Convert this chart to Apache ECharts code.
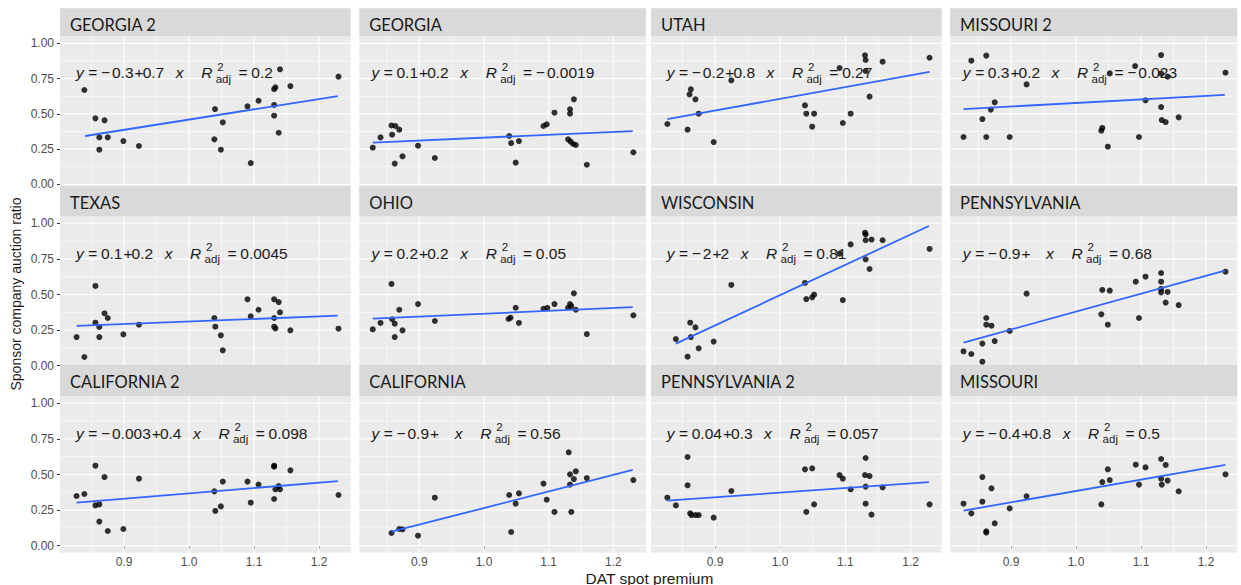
<!DOCTYPE html>
<html><head><meta charset="utf-8">
<script src="https://cdn.jsdelivr.net/npm/echarts@6/dist/echarts.min.js"></script>
<style>html,body{margin:0;padding:0;background:#fff}#c{width:1241px;height:585px}</style>
</head><body><div id="c"></div>
<script>
// ---------- data ----------
const panelNames = ['GEORGIA 2','GEORGIA','UTAH','MISSOURI 2','TEXAS','OHIO','WISCONSIN','PENNSYLVANIA','CALIFORNIA 2','CALIFORNIA','PENNSYLVANIA 2','MISSOURI'];
const xTicks = [0.9, 1.0, 1.1, 1.2];
const xMinor = [0.85, 0.95, 1.05, 1.15];
const yTicks = [0, 0.25, 0.5, 0.75, 1.0];
const yMinor = [0.125, 0.375, 0.625, 0.875];

const georgia2 = [[0.839,0.669],[0.856,0.468],[0.870,0.454],[0.862,0.333],[0.875,0.333],[0.862,0.246],[0.899,0.307],[0.923,0.272],[1.040,0.534],[1.039,0.319],[1.052,0.440],[1.049,0.246],[1.090,0.553],[1.095,0.151],[1.107,0.593],[1.131,0.676],[1.133,0.688],[1.131,0.563],[1.131,0.487],[1.138,0.366],[1.140,0.816],[1.156,0.697],[1.230,0.764]];
const georgia2Fit = [[0.840,0.343],[1.229,0.626]];
const georgia2Eq = ['−0.3','0.7','0.2'];

const georgia = [[0.828,0.260],[0.840,0.333],[0.857,0.418],[0.863,0.414],[0.858,0.352],[0.869,0.388],[0.862,0.147],[0.874,0.199],[0.898,0.274],[0.924,0.187],[1.039,0.343],[1.042,0.293],[1.054,0.307],[1.049,0.154],[1.092,0.414],[1.097,0.426],[1.109,0.508],[1.133,0.532],[1.133,0.501],[1.139,0.603],[1.130,0.319],[1.134,0.303],[1.138,0.286],[1.142,0.279],[1.159,0.139],[1.231,0.227]];
const georgiaFit = [[0.828,0.296],[1.230,0.378]];
const georgiaEq = ['0.1','0.2','−0.0019'];

const utah = [[0.827,0.428],[0.858,0.388],[0.863,0.674],[0.861,0.638],[0.870,0.603],[0.875,0.501],[0.898,0.300],[0.925,0.738],[1.038,0.560],[1.040,0.501],[1.052,0.501],[1.049,0.409],[1.091,0.825],[1.096,0.435],[1.108,0.501],[1.130,0.915],[1.131,0.882],[1.131,0.804],[1.137,0.622],[1.157,0.870],[1.229,0.898]];
const utahFit = [[0.827,0.463],[1.229,0.797]];
const utahEq = ['−0.2','0.8','0.27'];

const missouri2 = [[0.827,0.336],[0.839,0.877],[0.862,0.913],[0.856,0.463],[0.869,0.530],[0.875,0.582],[0.862,0.336],[0.898,0.336],[0.924,0.709],[1.039,0.381],[1.0405,0.400],[1.049,0.267],[1.052,0.787],[1.091,0.839],[1.097,0.336],[1.107,0.596],[1.131,0.917],[1.131,0.785],[1.131,0.548],[1.132,0.456],[1.138,0.442],[1.141,0.764],[1.158,0.475],[1.230,0.792]];
const missouri2Fit = [[0.827,0.534],[1.229,0.634]];
const missouri2Eq = ['0.3','0.2','−0.023'];

const texas = [[0.827,0.201],[0.839,0.061],[0.856,0.560],[0.856,0.302],[0.862,0.272],[0.862,0.201],[0.870,0.368],[0.875,0.335],[0.899,0.220],[0.923,0.288],[1.039,0.335],[1.0405,0.274],[1.049,0.213],[1.052,0.108],[1.090,0.466],[1.095,0.347],[1.107,0.393],[1.131,0.466],[1.131,0.335],[1.131,0.274],[1.133,0.262],[1.138,0.447],[1.140,0.375],[1.156,0.248],[1.230,0.260]];
const texasFit = [[0.827,0.279],[1.229,0.351]];
const texasEq = ['0.1','0.2','0.0045'];

const ohio = [[0.828,0.255],[0.840,0.300],[0.857,0.574],[0.858,0.326],[0.862,0.295],[0.869,0.393],[0.874,0.248],[0.862,0.201],[0.898,0.433],[0.924,0.314],[1.038,0.328],[1.041,0.337],[1.049,0.407],[1.054,0.300],[1.092,0.400],[1.098,0.407],[1.109,0.433],[1.130,0.407],[1.133,0.433],[1.135,0.419],[1.139,0.508],[1.142,0.393],[1.159,0.222],[1.231,0.354]];
const ohioFit = [[0.828,0.330],[1.230,0.412]];
const ohioEq = ['0.2','0.2','0.05'];

const wisconsin = [[0.840,0.187],[0.858,0.063],[0.862,0.302],[0.863,0.201],[0.870,0.269],[0.875,0.122],[0.898,0.169],[0.925,0.567],[1.038,0.581],[1.040,0.468],[1.049,0.480],[1.052,0.499],[1.091,0.787],[1.096,0.461],[1.108,0.852],[1.130,0.934],[1.131,0.922],[1.131,0.881],[1.140,0.886],[1.131,0.747],[1.137,0.679],[1.157,0.881],[1.229,0.820]];
const wisconsinFit = [[0.840,0.155],[1.228,0.981]];
const wisconsinEq = ['−2','2','0.81'];

const pennsylvania = [[0.827,0.101],[0.839,0.082],[0.856,0.028],[0.856,0.155],[0.862,0.335],[0.862,0.288],[0.870,0.281],[0.875,0.173],[0.898,0.244],[0.924,0.506],[1.039,0.361],[1.0405,0.532],[1.049,0.288],[1.052,0.527],[1.092,0.590],[1.097,0.335],[1.107,0.625],[1.131,0.651],[1.131,0.590],[1.131,0.539],[1.131,0.515],[1.138,0.443],[1.141,0.518],[1.158,0.426],[1.230,0.660]];
const pennsylvaniaFit = [[0.827,0.162],[1.229,0.668]];
const pennsylvaniaEq = ['−0.9','','0.68'];

const california2 = [[0.827,0.349],[0.839,0.363],[0.856,0.562],[0.856,0.283],[0.862,0.290],[0.862,0.169],[0.870,0.482],[0.875,0.103],[0.899,0.117],[0.923,0.471],[1.039,0.382],[1.0405,0.244],[1.049,0.276],[1.052,0.450],[1.090,0.450],[1.095,0.302],[1.107,0.429],[1.131,0.562],[1.131,0.555],[1.131,0.328],[1.133,0.396],[1.138,0.419],[1.140,0.396],[1.156,0.529],[1.230,0.356]];
const california2Fit = [[0.827,0.302],[1.229,0.454]];
const california2Eq = ['−0.003','0.4','0.098'];

const california = [[0.857,0.089],[0.869,0.117],[0.874,0.115],[0.898,0.070],[0.924,0.337],[1.039,0.356],[1.042,0.096],[1.049,0.295],[1.054,0.368],[1.092,0.436],[1.097,0.323],[1.109,0.237],[1.131,0.656],[1.133,0.501],[1.139,0.468],[1.142,0.522],[1.133,0.429],[1.135,0.237],[1.159,0.475],[1.231,0.461]];
const californiaFit = [[0.857,0.098],[1.230,0.532]];
const californiaEq = ['−0.9','','0.56'];

const pennsylvania2 = [[0.827,0.337],[0.840,0.283],[0.858,0.623],[0.858,0.424],[0.862,0.227],[0.864,0.215],[0.870,0.215],[0.875,0.215],[0.898,0.197],[0.925,0.384],[1.038,0.536],[1.049,0.543],[1.040,0.237],[1.052,0.290],[1.091,0.496],[1.096,0.471],[1.108,0.396],[1.131,0.616],[1.130,0.496],[1.137,0.489],[1.131,0.415],[1.131,0.295],[1.140,0.218],[1.157,0.410],[1.229,0.290]];
const pennsylvania2Fit = [[0.827,0.316],[1.228,0.447]];
const pennsylvania2Eq = ['0.04','0.3','0.057'];

const missouri = [[0.827,0.295],[0.839,0.227],[0.856,0.482],[0.856,0.309],[0.862,0.101],[0.862,0.092],[0.870,0.403],[0.875,0.157],[0.898,0.262],[0.924,0.347],[1.039,0.290],[1.0405,0.447],[1.049,0.536],[1.052,0.461],[1.092,0.569],[1.097,0.429],[1.107,0.550],[1.131,0.609],[1.131,0.471],[1.132,0.429],[1.138,0.567],[1.141,0.457],[1.158,0.382],[1.230,0.501]];
const missouriFit = [[0.827,0.246],[1.230,0.567]];
const missouriEq = ['−0.4','0.8','0.5'];

const eqAnchor = [0.826, 0.79];

// ---------- layout / style ----------
const panelPts = [georgia2, georgia, utah, missouri2, texas, ohio, wisconsin, pennsylvania, california2, california, pennsylvania2, missouri];
const panelFit = [georgia2Fit, georgiaFit, utahFit, missouri2Fit, texasFit, ohioFit, wisconsinFit, pennsylvaniaFit, california2Fit, californiaFit, pennsylvania2Fit, missouriFit];
const panelEq = [georgia2Eq, georgiaEq, utahEq, missouri2Eq, texasEq, ohioEq, wisconsinEq, pennsylvaniaEq, california2Eq, californiaEq, pennsylvania2Eq, missouriEq];

const FONT = '"Liberation Sans", Arial, sans-serif';
const STRIP_FONT = 'Lato, "Open Sans", sans-serif';
const YMIN = -0.05, YMAX = 1.05;
const colLeft = [60, 359.3, 651, 950];
const colW = [290.7, 286.7, 290.7, 287.3];
const colXMin = [0.8015, 0.8072, 0.8019, 0.8062];
const colXMax = [1.2488, 1.2505, 1.2476, 1.2482];
const rowTop = [36.3, 216.2, 396.2];
const rowH = [155.1, 156.6, 156.6];
const stripTop = [8.3, 186.3, 365];
const stripTextY = [25, 203, 381.7];
const EQ_FS = 15.5, SUB_FS = 11.5;
const TXT = '#1a1a1a';

const meas = document.createElement('canvas').getContext('2d');
function fontStr(fs, italic) { return (italic ? 'italic ' : 'normal ') + 'normal ' + fs + 'px "Liberation Sans", Arial, sans-serif'; }
function tw(t, fs, italic) { meas.font = fontStr(fs, italic); return meas.measureText(t).width; }

const gridData = [];
xTicks.forEach(v => gridData.push([v, 0.5, 0, 1]));
xMinor.forEach(v => gridData.push([v, 0.5, 0, 0]));
yTicks.forEach(v => gridData.push([1.0, v, 1, 1]));
yMinor.forEach(v => gridData.push([1.0, v, 1, 0]));

function gridItem(params, api) {
  const cs = params.coordSys;
  const orient = api.value(2), major = api.value(3);
  let shape;
  if (orient === 0) {
    const x = api.coord([api.value(0), 0.5])[0];
    shape = { x1: x, y1: cs.y, x2: x, y2: cs.y + cs.height };
  } else {
    const y = api.coord([1.0, api.value(1)])[1];
    shape = { x1: cs.x, y1: y, x2: cs.x + cs.width, y2: y };
  }
  return { type: 'line', shape, style: { stroke: '#ffffff', lineWidth: major ? 1.1 : 0.55 }, silent: true };
}

function makeEq(eq) {
  return function (params, api) {
    const p = api.coord([api.value(0), api.value(1)]);
    let x = p[0]; const y = p[1];
    const ch = [];
    function put(t, o) {
      o = o || {};
      const fs = o.fs || EQ_FS;
      const px = (o.x !== undefined) ? o.x : x;
      ch.push({ type: 'text', silent: true,
        style: { text: t, x: px, y: y + (o.dy || 0), fill: TXT, font: fontStr(fs, o.it),
          fontSize: fs, fontFamily: FONT, fontStyle: o.it ? 'italic' : 'normal',
          verticalAlign: 'middle', align: 'left' } });
      return tw(t, fs, o.it);
    }
    function putNum(s) {
      if (s.charAt(0) === '−') { x += put('−') + 2; s = s.slice(1); }
      x += put(s);
    }
    x += put('y', { it: 1 }) + 4.6;
    x += put('=') + 3.6;
    putNum(eq[0]); x += 1;
    x += put('+') - 0.9;
    if (eq[1]) { x += put(eq[1]); } else { x += 5; }
    x += 11.5;
    x += put('x', { it: 1 }) + 17.7;
    x += put('R', { it: 1 }) + 3.3;
    const w1 = put('2', { fs: SUB_FS, dy: -6, x: x + 1.5 });
    const w2 = put('adj', { fs: SUB_FS, dy: 6, x: x });
    x += Math.max(w1 + 1.5, w2) + 7.5;
    x += put('=') + 3.8;
    putNum(eq[2]);
    return { type: 'group', children: ch };
  };
}

const grids = [], xAxes = [], yAxes = [], series = [], graphics = [];
for (let i = 0; i < 12; i++) {
  const r = Math.floor(i / 4), c = i % 4;
  grids.push({ left: colLeft[c], top: rowTop[r], width: colW[c], height: rowH[r], show: true,
    backgroundColor: '#EBEBEB', borderWidth: 0, containLabel: false, outerBoundsMode: 'none' });
  xAxes.push({ gridIndex: i, type: 'value', min: colXMin[c], max: colXMax[c],
    axisLine: { show: false }, splitLine: { show: false },
    axisTick: { show: r === 2, length: 3, customValues: xTicks, lineStyle: { color: '#333333', width: 1 } },
    axisLabel: { show: r === 2, customValues: xTicks, formatter: v => Number(v).toFixed(1), color: '#4D4D4D', fontSize: 12, margin: 3, fontFamily: FONT } });
  yAxes.push({ gridIndex: i, type: 'value', min: YMIN, max: YMAX,
    axisLine: { show: false }, splitLine: { show: false },
    axisTick: { show: c === 0, length: 3, customValues: yTicks, lineStyle: { color: '#333333', width: 1 } },
    axisLabel: { show: c === 0, customValues: yTicks, formatter: v => Number(v).toFixed(2), color: '#4D4D4D', fontSize: 12, margin: 6, fontFamily: FONT } });
  series.push({ type: 'custom', xAxisIndex: i, yAxisIndex: i, renderItem: gridItem, data: gridData, silent: true, z: 1, clip: false });
  series.push({ type: 'scatter', xAxisIndex: i, yAxisIndex: i, data: panelPts[i], symbol: 'circle', symbolSize: 6,
    itemStyle: { color: '#000000' }, silent: true, z: 3 });
  series.push({ type: 'line', xAxisIndex: i, yAxisIndex: i, data: panelFit[i], symbol: 'none',
    lineStyle: { color: '#3366FF', width: 1.8 }, silent: true, z: 4 });
  series.push({ type: 'custom', xAxisIndex: i, yAxisIndex: i, renderItem: makeEq(panelEq[i]), data: [eqAnchor], silent: true, z: 5, clip: false });

  graphics.push({ type: 'rect', z: 100, silent: true,
    shape: { x: colLeft[c], y: stripTop[r], width: colW[c], height: rowTop[r] - stripTop[r] },
    style: { fill: '#D9D9D9' } });
  graphics.push({ type: 'text', z: 101, silent: true, x: colLeft[c] + 10, y: stripTextY[r],
    style: { text: panelNames[i], fill: TXT, fontSize: 16.5, fontFamily: STRIP_FONT, verticalAlign: 'middle', align: 'left' } });
}
graphics.push({ type: 'text', z: 101, silent: true, x: 649.5, y: 578,
  style: { text: 'DAT spot premium', fill: TXT, fontSize: 15.5, fontFamily: FONT, align: 'center', verticalAlign: 'middle' } });
graphics.push({ type: 'text', z: 101, silent: true, x: 15.5, y: 294, rotation: Math.PI / 2,
  style: { text: 'Sponsor company auction ratio', fill: TXT, fontSize: 14, fontFamily: FONT, align: 'center', verticalAlign: 'middle' } });

const chart = echarts.init(document.getElementById('c'), null, { renderer: 'svg', width: 1241, height: 585 });
chart.setOption({
  animation: false,
  backgroundColor: '#ffffff',
  grid: grids, xAxis: xAxes, yAxis: yAxes, series: series,
  graphic: { elements: graphics }
});
</script></body></html>
